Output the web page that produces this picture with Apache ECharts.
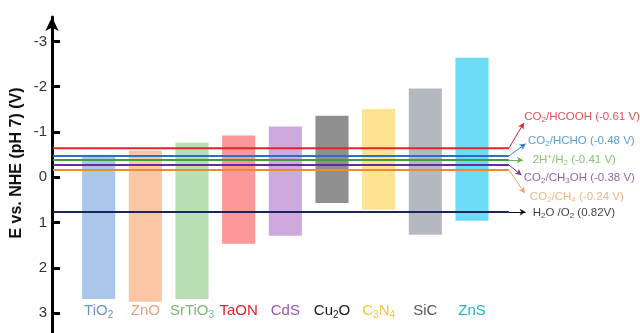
<!DOCTYPE html>
<html>
<head>
<meta charset="utf-8">
<script src="https://cdn.jsdelivr.net/npm/echarts@6/dist/echarts.min.js"></script>
<style>
  html, body { margin: 0; padding: 0; background: #fff; }
  #chart { width: 640px; height: 333px; }
</style>
</head>
<body>
<div id="chart"></div>
<script>
// band edges vs NHE (pH 7); conduction band on top (negative), valence band below
const materials = ['TiO_2', 'ZnO', 'SrTiO_3', 'TaON', 'CdS', 'Cu_2O', 'C_3N_4', 'SiC', 'ZnS'];
const barPos = [1, 2, 3, 4, 5, 6, 7, 8, 9];
const cbEdge = [-0.50, -0.59, -0.76, -0.92, -1.12, -1.36, -1.51, -1.96, -2.64];
const vbEdge = [2.69, 2.75, 2.69, 1.47, 1.29, 0.57, 0.72, 1.27, 0.96];
const barColors = ['#aac6e8', '#fbc6a3', '#b8dfb3', '#fb9898', '#cea9de', '#8f8f8f', '#fee392', '#b4b9c1', '#6ddcf6'];
const nameColors = ['#6a93cc', '#e8a27a', '#7cba74', '#e3202c', '#9a55b5', '#1a1a1a', '#f2c83a', '#555a60', '#1fb2d4'];

// redox potentials as drawn, and their labels
const redoxNames = ['CO_2/HCOOH (-0.61 V)', 'CO_2/HCHO (-0.48 V)', '2H^+/H_2 (-0.41 V)',
  'CO_2/CH_3OH (-0.38 V)', 'CO_2/CH_4 (-0.24 V)', 'H_2O /O_2 (0.82V)'];
const redoxLevel = [-0.64, -0.47, -0.38, -0.27, -0.16, 0.77];
const lineColors = ['#e8222c', '#2a6fc9', '#3f9f3f', '#6a2a9a', '#f08a2a', '#1a2560'];
const textColors = ['#d8232e', '#2f86c4', '#6ab04c', '#7a3a9a', '#eba468', '#111111'];
const lineEndX = 9.79;
const tipX = [10.11, 10.15, 10.09, 10.06, 10.13, 10.15];
const tipY = [-1.20, -0.74, -0.38, -0.05, 0.35, 0.77];
const textX = [10.12, 10.2, 10.3, 10.11, 10.24, 10.3];
const textY = [-1.33, -0.80, -0.38, 0.02, 0.43, 0.78];
const yTicks = [-3, -2, -1, 0, 1, 2, 3];

const font = '"Liberation Sans", Arial, sans-serif';

// 'CO_2' -> rich text with subscript, '^+' -> superscript
function richText(s, sub, sup) {
  return s.replace(/_(\d)/g, '{' + sub + '|$1}').replace(/\^(\+)/g, '{' + sup + '|$1}');
}

const catRich = {};
nameColors.forEach((c, i) => {
  catRich['n' + i] = { color: c, fontSize: 15, fontFamily: font, lineHeight: 18 };
  catRich['s' + i] = { color: c, fontSize: 10, fontFamily: font, lineHeight: 10, verticalAlign: 'bottom' };
});

const redoxRich = {};
textColors.forEach((c, i) => {
  redoxRich['s' + i] = { color: c, fontSize: 8, fontFamily: font, lineHeight: 8, verticalAlign: 'bottom' };
  redoxRich['p' + i] = { color: c, fontSize: 8, fontFamily: font, lineHeight: 8, verticalAlign: 'top' };
});

const chart = echarts.init(document.getElementById('chart'), null, { renderer: 'canvas' });

const series = [{
  type: 'custom',
  silent: true,
  data: barPos.map((x, i) => [x, cbEdge[i], vbEdge[i]]),
  encode: { x: 0, y: [1, 2] },
  renderItem(params, api) {
    const top = api.coord([api.value(0), api.value(1)]);
    const bot = api.coord([api.value(0), api.value(2)]);
    const w = api.size([0.71, 0])[0];
    return {
      type: 'rect',
      shape: { x: top[0] - w / 2, y: Math.min(top[1], bot[1]), width: w, height: Math.abs(bot[1] - top[1]) },
      style: { fill: barColors[params.dataIndex] }
    };
  },
  z: 1
}];

redoxLevel.forEach((v, i) => {
  series.push({
    type: 'line',
    silent: true,
    showSymbol: false,
    data: [[0.02, v], [lineEndX, v]],
    lineStyle: { color: lineColors[i], width: 2 },
    z: 3,
    markLine: {
      silent: true,
      symbol: ['none', 'arrow'],
      symbolSize: [5, 6],
      label: { show: false },
      lineStyle: { color: textColors[i], width: 1, type: 'solid' },
      data: [[{ coord: [lineEndX, v] }, { coord: [tipX[i], tipY[i]] }]]
    }
  });
});

series.push({
  type: 'scatter',
  silent: true,
  symbolSize: 0,
  data: redoxNames.map((n, i) => ({
    value: [textX[i], textY[i]],
    label: {
      show: true,
      position: 'right',
      distance: 0,
      color: textColors[i],
      fontSize: 11.5,
      fontFamily: font,
      lineHeight: 14,
      formatter: richText(n, 's' + i, 'p' + i),
      rich: redoxRich
    }
  })),
  z: 4
});

chart.setOption({
  animation: false,
  backgroundColor: '#fff',
  grid: { left: 52, right: 0, top: 17, bottom: 0 },
  xAxis: {
    type: 'value',
    min: 0,
    max: 12.6,
    offset: -39,
    axisLine: { show: false },
    axisTick: { show: false },
    splitLine: { show: false },
    axisLabel: {
      customValues: barPos,
      margin: 8,
      formatter: (val) => {
        const i = barPos.indexOf(val);
        if (i < 0) return '';
        return '{n' + i + '|' + materials[i].replace(/_(\d)/g, '}{s' + i + '|$1}{n' + i + '|') + '}';
      },
      rich: catRich
    }
  },
  yAxis: {
    type: 'value',
    inverse: true,
    min: -3.54,
    max: 3.44,
    splitLine: { show: false },
    axisLine: {
      show: true,
      symbol: ['none', 'arrow'],
      symbolSize: [10, 14],
      lineStyle: { color: '#000', width: 3 }
    },
    axisTick: {
      show: true,
      inside: true,
      length: 8,
      customValues: yTicks,
      lineStyle: { color: '#000', width: 3 }
    },
    axisLabel: {
      customValues: yTicks,
      margin: 5,
      color: '#333',
      fontSize: 15,
      fontFamily: font
    }
  },
  graphic: [{
    type: 'text',
    x: 17,
    y: 163,
    rotation: Math.PI / 2,
    style: {
      text: 'E vs. NHE (pH 7) (V)',
      fill: '#111',
      font: 'bold 16px ' + font,
      align: 'center',
      verticalAlign: 'middle'
    }
  }],
  series
});
</script>
</body>
</html>
